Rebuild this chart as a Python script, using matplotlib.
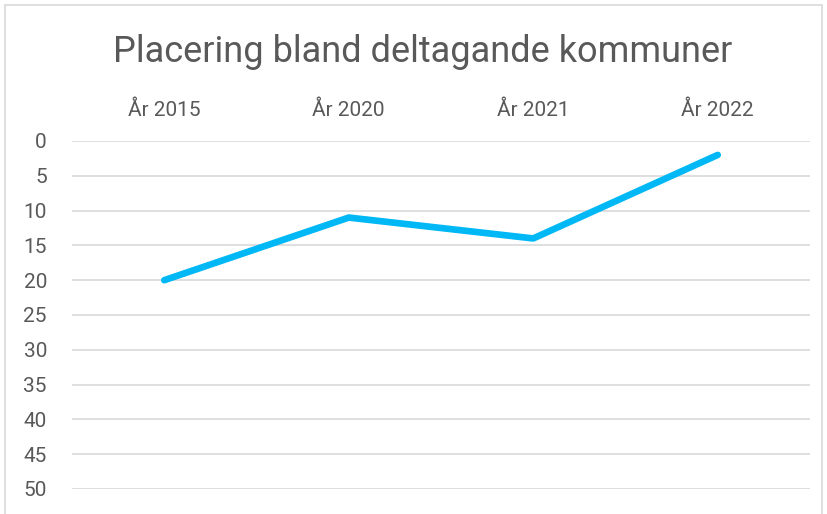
import matplotlib
matplotlib.use('Agg')
import matplotlib.pyplot as plt
from matplotlib.patches import Rectangle

years = ['År 2015', 'År 2020', 'År 2021', 'År 2022']
placering = [20, 11, 14, 2]
y_ticks = [0, 5, 10, 15, 20, 25, 30, 35, 40, 45, 50]

plt.rcParams['font.family'] = ['Roboto', 'DejaVu Sans']
text_color = '#595959'

fig = plt.figure(figsize=(8.27, 5.14), dpi=100)
fig.patches.append(Rectangle((5 / 827, -0.1), 817 / 827, 1.1 - 5 / 514, transform=fig.transFigure,
                             fill=False, edgecolor='#d9d9d9', linewidth=1.2))

ax = fig.add_axes([72 / 827, 1 - 489 / 514, 738 / 827, 348 / 514])
ax.plot(range(len(years)), placering, color='#00b8f5', linewidth=4.8, solid_capstyle='round')

ax.set_xlim(-0.5, len(years) - 0.5)
ax.set_ylim(50, 0)
ax.set_yticks(y_ticks)
ax.set_xticks(range(len(years)))
ax.set_xticklabels(years)
ax.xaxis.tick_top()
ax.tick_params(axis='x', length=0, pad=15, labelsize=15, labelcolor=text_color)
ax.tick_params(axis='y', length=0, pad=18, labelsize=15, labelcolor=text_color)
ax.grid(axis='y', color='#d9d9d9', linewidth=1.2)
ax.set_axisbelow(True)
for s in ax.spines.values():
    s.set_visible(False)

fig.text(423 / 827, 1 - 52 / 514, 'Placering bland deltagande kommuner', ha='center', va='center',
         fontsize=26, color=text_color)

fig.savefig('out.png', dpi=100)
